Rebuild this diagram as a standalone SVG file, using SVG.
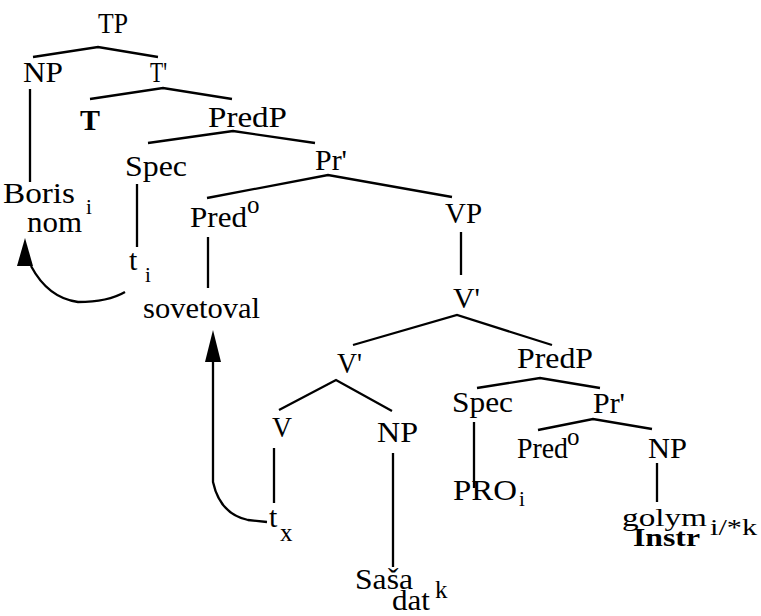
<svg xmlns="http://www.w3.org/2000/svg" width="761" height="616" viewBox="0 0 761 616">
<style>
text{font-family:"Liberation Serif","Times New Roman",serif;font-size:30px;fill:#000}
.s{font-size:21px}
.m{font-size:25px}
.b{font-weight:bold}
.e{fill:none;stroke:#000;stroke-width:2.3;stroke-linejoin:miter}
</style>
<rect width="761" height="616" fill="#fff"/>
<g id="connectors">
<polyline class="e" points="33,57 98,47 158,57"/>
<polyline class="e" points="30,89 30,182"/>
<polyline class="e" points="90,99 163,88 232,99"/>
<polyline class="e" points="148,143 233,131 315,143"/>
<polyline class="e" points="137,184 137,247"/>
<polyline class="e" points="207,198 328,175 452,197"/>
<polyline class="e" points="208,237 208,288"/>
<polyline class="e" points="461,232 461,275"/>
<polyline class="e" points="353,345 457,315 552,345"/>
<polyline class="e" points="279,410 336,380 392,411"/>
<polyline class="e" points="274,448 274,503"/>
<polyline class="e" points="393,453 393,567"/>
<polyline class="e" points="477,388 540,378 600,388"/>
<polyline class="e" points="474,422 474,488"/>
<polyline class="e" points="538,430 593,419 652,429"/>
<polyline class="e" points="657,463 657,502"/>
<path class="e" d="M125,292 Q108,302 78,302 Q48,298 31,266"/>
<polygon points="25,238 17,266 33,266" fill="#000"/>
<path class="e" d="M267,522 L248,520 Q220,514 213,482 L213,360"/>
<polygon points="213,330 205,362 221,362" fill="#000"/>
</g>
<g id="TP"><text x="98" y="33" textLength="30" lengthAdjust="spacingAndGlyphs">TP</text></g>
<g id="NP1"><text x="23" y="82" textLength="40" lengthAdjust="spacingAndGlyphs">NP</text></g>
<g id="Tbar"><text x="150" y="82" textLength="17" lengthAdjust="spacingAndGlyphs">T'</text></g>
<g id="T"><text class="b" x="80" y="130" textLength="20" lengthAdjust="spacingAndGlyphs">T</text></g>
<g id="PredP1"><text x="208" y="127" textLength="79" lengthAdjust="spacingAndGlyphs">PredP</text></g>
<g id="Spec1"><text x="125" y="176" textLength="62" lengthAdjust="spacingAndGlyphs">Spec</text></g>
<g id="Pr1"><text x="315" y="170" textLength="32" lengthAdjust="spacingAndGlyphs">Pr'</text></g>
<g id="Pred1"><text x="190" y="227" textLength="57" lengthAdjust="spacingAndGlyphs">Pred</text><text class="m" x="247" y="213">o</text></g>
<g id="VP"><text x="445" y="223" textLength="37" lengthAdjust="spacingAndGlyphs">VP</text></g>
<g id="Vbar1"><text x="453" y="308" textLength="27" lengthAdjust="spacingAndGlyphs">V'</text></g>
<g id="Boris"><text x="3" y="203" textLength="72" lengthAdjust="spacingAndGlyphs">Boris</text><text class="s" x="86" y="214">i</text><text x="27" y="232" textLength="55" lengthAdjust="spacingAndGlyphs">nom</text></g>
<g id="ti"><text x="129" y="270">t</text><text class="s" x="145" y="282">i</text></g>
<g id="sovetoval"><text x="143" y="318" textLength="117" lengthAdjust="spacingAndGlyphs">sovetoval</text></g>
<g id="Vbar2"><text x="337" y="373" textLength="25" lengthAdjust="spacingAndGlyphs">V'</text></g>
<g id="V"><text x="272" y="437" textLength="20" lengthAdjust="spacingAndGlyphs">V</text></g>
<g id="NP2"><text x="377" y="442" textLength="41" lengthAdjust="spacingAndGlyphs">NP</text></g>
<g id="tx"><text x="269" y="527">t</text><text class="m" x="280" y="541">x</text></g>
<g id="Sasa"><text x="355" y="589" textLength="58" lengthAdjust="spacingAndGlyphs">Saša</text><text x="392" y="610" textLength="38" lengthAdjust="spacingAndGlyphs">dat</text><text class="m" x="435" y="598">k</text></g>
<g id="PredP2"><text x="517" y="368" textLength="76" lengthAdjust="spacingAndGlyphs">PredP</text></g>
<g id="Spec2"><text x="452" y="412" textLength="61" lengthAdjust="spacingAndGlyphs">Spec</text></g>
<g id="Pr2"><text x="593" y="413" textLength="32" lengthAdjust="spacingAndGlyphs">Pr'</text></g>
<g id="Pred2"><text x="517" y="458" textLength="51" lengthAdjust="spacingAndGlyphs">Pred</text><text class="m" x="567" y="445">o</text></g>
<g id="NP3"><text x="648" y="458" textLength="39" lengthAdjust="spacingAndGlyphs">NP</text></g>
<g id="PRO"><text x="453" y="500" textLength="64" lengthAdjust="spacingAndGlyphs">PRO</text><text class="s" x="519" y="506">i</text></g>
<g id="golym"><text x="622" y="526" style="font-size:26px" textLength="85" lengthAdjust="spacingAndGlyphs">golym</text><text class="b" x="633" y="546" style="font-size:25px" textLength="67" lengthAdjust="spacingAndGlyphs">Instr</text><text x="710" y="535" style="font-size:24px" textLength="47" lengthAdjust="spacingAndGlyphs">i/*k</text></g>
</svg>
